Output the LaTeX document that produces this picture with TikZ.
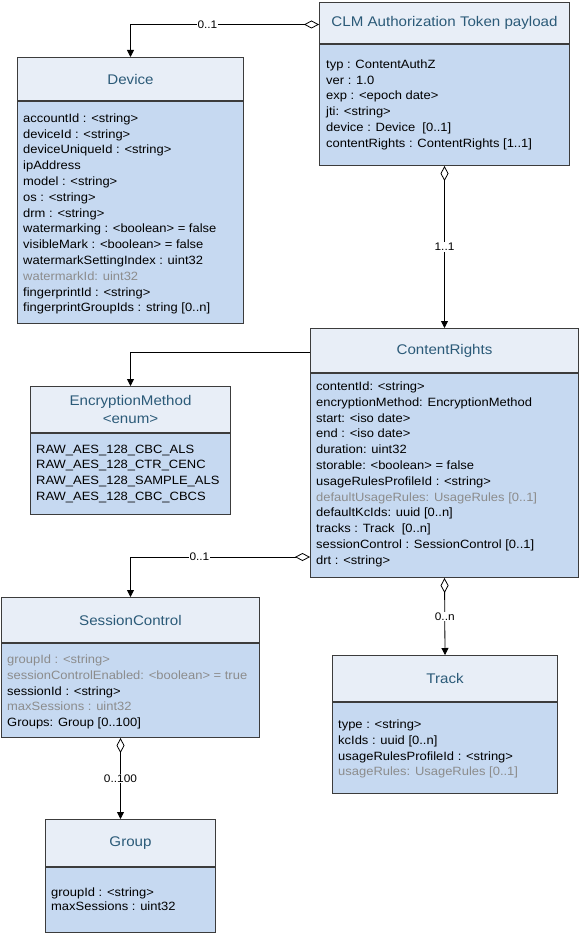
\documentclass[tikz,border=0pt]{standalone}
\usepackage{fontspec}
\setmainfont{Liberation Sans}[FakeStretch=1.08]
\usetikzlibrary{arrows.meta,calc}
\definecolor{hdrc}{HTML}{E8EEF7}
\definecolor{bdyc}{HTML}{C6D9F1}
\definecolor{bordc}{HTML}{3C3C3C}
\definecolor{titlec}{HTML}{2B5A78}
\definecolor{grayt}{HTML}{8C8C8C}
\newcommand\ttlfont{\fontsize{14}{18}\selectfont}
\newcommand\atfont{\fontsize{12}{15.8}\selectfont}
\newcommand\gr[1]{\textcolor{grayt}{#1}}
\begin{document}
\begin{tikzpicture}[x=1pt,y=-1pt,
  hdr/.style={draw=bordc, fill=hdrc, line width=1pt, inner sep=0pt, anchor=north west,
    font=\ttlfont, text=titlec, align=center},
  bdy/.style={draw=bordc, fill=bdyc, line width=1pt, inner sep=0pt, anchor=north west},
  attr/.style={inner sep=0pt, anchor=north west, align=left, font=\atfont},
  lbl/.style={fill=white, inner sep=1pt, font=\fontsize{11}{13}\selectfont},
  conn/.style={line width=0.8pt, black},
  agg/.style={{Diamond[open,length=15pt,width=8pt]}-{Triangle[length=7pt,width=7pt]}},
  assoc/.style={-{Triangle[length=7pt,width=7pt]}}
]
\useasboundingbox (0,0) rectangle (580,933);
\fill[white] (0,0) rectangle (580,933);

% CLM Authorization Token payload
\node[hdr, minimum width=250pt, minimum height=41pt] (clmT) at (319,2) {CLM Authorization Token payload};
\node[bdy, minimum width=250pt, minimum height=121pt] (clmB) at (clmT.south west) {};
\node[attr] (clmA) at ($(clmB.north west)+(7,15.5)$) {typ : ContentAuthZ\\ver : 1.0\\exp : <epoch date>\\jti: <string>\\device : Device~~[0..1]\\contentRights : ContentRights [1..1]};

% Device
\node[hdr, minimum width=226pt, minimum height=43pt] (devT) at (17,57) {Device};
\node[bdy, minimum width=226pt, minimum height=222pt] (devB) at (devT.south west) {};
\node[attr] (devA) at ($(devB.north west)+(6,12.5)$) {accountId : <string>\\deviceId : <string>\\deviceUniqueId : <string>\\ipAddress\\model : <string>\\os : <string>\\drm : <string>\\watermarking : <boolean> = false\\visibleMark : <boolean> = false\\watermarkSettingIndex : uint32\\\gr{watermarkId: uint32}\\fingerprintId : <string>\\fingerprintGroupIds : string [0..n]};

% EncryptionMethod
\node[hdr, minimum width=200pt, minimum height=46pt] (emT) at (30,386) {EncryptionMethod\\<enum>};
\node[bdy, minimum width=200pt, minimum height=81pt] (emB) at (emT.south west) {};
\node[attr] (emA) at ($(emB.north west)+(6,11.5)$) {RAW\_AES\_128\_CBC\_ALS\\RAW\_AES\_128\_CTR\_CENC\\RAW\_AES\_128\_SAMPLE\_ALS\\RAW\_AES\_128\_CBC\_CBCS};

% ContentRights
\node[hdr, minimum width=268pt, minimum height=44pt] (crT) at (310,328) {ContentRights};
\node[bdy, minimum width=268pt, minimum height=204pt] (crB) at (crT.south west) {};
\node[attr] (crA) at ($(crB.north west)+(6,8.5)$) {contentId: <string>\\encryptionMethod: EncryptionMethod\\start: <iso date>\\end : <iso date>\\duration: uint32\\storable: <boolean> = false\\usageRulesProfileId : <string>\\\gr{defaultUsageRules: UsageRules [0..1]}\\defaultKcIds: uuid [0..n]\\tracks : Track~~[0..n]\\sessionControl : SessionControl [0..1]\\drt : <string>};

% SessionControl
\node[hdr, minimum width=258pt, minimum height=45pt] (scT) at (1,597) {SessionControl};
\node[bdy, minimum width=258pt, minimum height=94pt] (scB) at (scT.south west) {};
\node[attr] (scA) at ($(scB.north west)+(6,11.5)$) {\gr{groupId : <string>}\\\gr{sessionControlEnabled: <boolean> = true}\\sessionId : <string>\\\gr{maxSessions : uint32}\\Groups: Group [0..100]};

% Track
\node[hdr, minimum width=225pt, minimum height=46pt] (trT) at (332,655) {Track};
\node[bdy, minimum width=225pt, minimum height=91pt] (trB) at (trT.south west) {};
\node[attr] (trA) at ($(trB.north west)+(6,17.5)$) {type : <string>\\kcIds : uuid [0..n]\\usageRulesProfileId : <string>\\\gr{usageRules: UsageRules [0..1]}};

% Group
\node[hdr, minimum width=170pt, minimum height=47pt] (grT) at (45,819) {Group};
\node[bdy, minimum width=170pt, minimum height=65pt] (grB) at (grT.south west) {};
\node[attr, font=\fontsize{12}{14.3}\selectfont] (grA) at ($(grB.north west)+(6,20.5)$) {groupId : <string>\\maxSessions : uint32};

% connectors
\draw[conn, agg] ($(clmT.west)+(0,1.5)$) -| node[lbl, pos=0.296] {0..1} (devT.north);
\draw[conn, agg] (clmB.south) -- node[lbl, midway] {1..1} (crT.north);
\draw[conn, assoc] ($(crT.west)+(0,2)$) -| (emT.north);
\draw[conn, agg] ($(crB.south west)+(0,-21)$) -| node[lbl, pos=0.308] {0..1} (scT.north);
\draw[conn, agg] (crB.south) -- node[lbl, midway] {0..n} (trT.north);
\draw[conn, agg] ($(scB.south)+(-10,0)$) -- node[lbl, midway] {0..100} ($(grT.north)+(-10,0)$);
\end{tikzpicture}
\end{document}
